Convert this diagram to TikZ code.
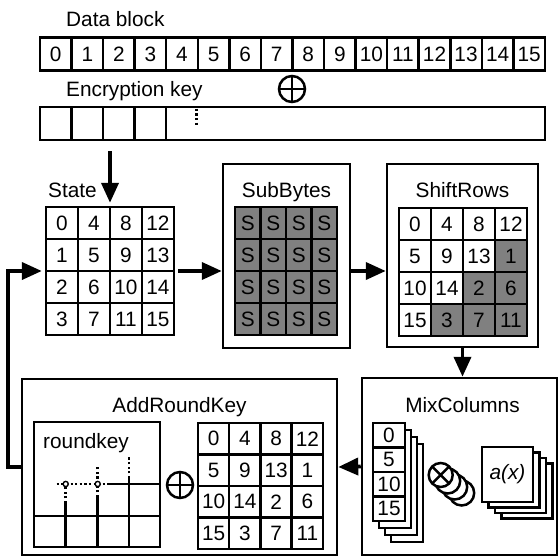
\documentclass[tikz,border=0pt]{standalone}
\usepackage{fontspec}
\setmainfont{Liberation Sans}
\usetikzlibrary{arrows.meta, positioning}
\definecolor{cellgray}{RGB}{128,128,128}
\tikzset{
cell/.style={draw, line width=2.5pt, inner sep=0pt, minimum width=32pt, minimum height=32pt}, % one byte of a block
stage/.style={draw, line width=2.5pt, inner sep=0pt}, % frame of a round step
heading/.style={anchor=base west, inner sep=0pt},
flow/.style={-{Triangle[length=20pt,width=17pt]}, line width=3.8pt}, % bold data flow arrows
dots/.style={line width=2.6pt, dash pattern=on 2.2pt off 2.4pt},
xorsym/.style={circle, draw, line width=2.5pt, minimum size=26pt, inner sep=0pt,
  path picture={\draw[line width=2.5pt] (path picture bounding box.north) -- (path picture bounding box.south)
    (path picture bounding box.west) -- (path picture bounding box.east);}},
mulsym/.style={circle, draw, fill=white, line width=2.5pt, minimum size=24pt, inner sep=0pt},
}

\begin{document}
\begin{tikzpicture}[x=1pt, y=-1pt, font=\fontsize{20.8}{24}\selectfont]
    \useasboundingbox (0,0) rectangle (559,556);

    % data block and key
    \node[heading] (datalbl) at (66,27) {Data block};
    \foreach \i in {0,...,15}
        \node[cell, minimum width=31.56pt, minimum height=33pt] (d\i) at ({55.78+31.56*\i},54) {\i};
    \node[heading] (keylbl) at (66,97) {Encryption key};
    \node[xorsym] (keyxor) at (292,89) {};
    \foreach \i in {0,...,3}
        \node[cell, minimum width=31.56pt, minimum height=33pt] (k\i) at ({55.78+31.56*\i},123.5) {};
    \node[cell, minimum width=378.8pt, minimum height=33pt] (krest) at (355.6,123.5) {};
    \draw[dots] ([xshift=31.6pt,yshift=-3pt]krest.north west) -- ++(0,16);

    % state
    \node[heading] (statelbl) at (48,197) {State};
    \node[minimum size=128pt, inner sep=0pt] (state) at (110,271) {};
    \foreach \r in {0,...,3}
        \foreach \c in {0,...,3} {
            \pgfmathtruncatemacro{\v}{4*\c+\r}
            \node[cell] (s-\r-\c) at ({62+32*\c},{223+32*\r}) {\v};
        }

    % subbytes
    \node[stage, minimum width=127pt, minimum height=184pt] (subbytes) at (286.5,256) {};
    \node[anchor=base, inner sep=0pt] at (286.5,197) {SubBytes};
    \foreach \r in {0,...,3}
        \foreach \c in {0,...,3}
            \node[cell, fill=cellgray, minimum width=25.5pt] (b-\r-\c) at ({247.75+25.5*\c},{223+32*\r}) {S};

    % shiftrows
    \node[stage, minimum width=151pt, minimum height=183pt] (shiftrows) at (462.5,255.5) {};
    \node[anchor=base, inner sep=0pt] at (462.5,197) {ShiftRows};
    \foreach \r in {0,...,3}
        \foreach \c in {0,...,3} {
            \pgfmathtruncatemacro{\v}{4*mod(\c+\r,4)+\r}
            \pgfmathtruncatemacro{\sh}{\c+\r>3}
            \ifnum\sh=1 \def\cellfill{cellgray}\else\def\cellfill{white}\fi
            \node[cell, fill=\cellfill] (h-\r-\c) at ({415+32*\c},{224+32*\r}) {\v};
        }

    % mixcolumns
    \node[stage, minimum width=195pt, minimum height=177pt] (mixcolumns) at (459.5,466.5) {};
    \node[anchor=base, inner sep=0pt] at (462.5,412) {MixColumns};
    \foreach \k in {3,2,1}
        \node[stage, fill=white, minimum width=32pt, minimum height=98pt] (col\k) at ({389+6*\k},{472+7*\k}) {};
    \foreach \v [count=\r from 0] in {0,5,10,15}
        \node[cell, fill=white, minimum height=24.5pt] (m-\r) at (389,{435.25+24.5*\r}) {\v};
    \foreach \k in {3,2,1}
        \node[mulsym, minimum width=22pt, minimum height=25pt] (mul\k) at ({440.7+7*\k},{475+6*\k}) {};
    \node[mulsym,
      path picture={\draw[line width=2.5pt] (path picture bounding box.north west) -- (path picture bounding box.south east)
        (path picture bounding box.north east) -- (path picture bounding box.south west);}] (mul0) at (440.7,475) {};
    \foreach \k in {3,2,1}
        \node[stage, fill=white, minimum width=51pt, minimum height=55pt] (ax\k) at ({507.5+6.5*\k},{474.5+5.5*\k}) {};
    \node[stage, fill=white, minimum width=51pt, minimum height=55pt] (ax0) at (507.5,474.5) {\itshape a(x)};

    % addroundkey
    \node[stage, minimum width=315pt, minimum height=176pt] (addroundkey) at (179.5,467) {};
    \node[anchor=base, inner sep=0pt] at (179.5,412) {AddRoundKey};
    \node[stage, minimum width=126pt, minimum height=125pt] (roundkey) at (97,484.5) {};
    \node[heading] at (43,448) {roundkey};
    \draw[line width=2.5pt] (34,516) -- (160,516)
        (65.7,547) -- (65.7,503) (97.7,547) -- (97.7,497) (129,547) -- (129,478) (110,484) -- (160,484);
    \draw[dots] (65.7,503) -- (65.7,484) (97.7,497) -- (97.7,465) (129,478) -- (129,457) (56.7,484) -- (110,484);
    \draw[line width=1.4pt, fill=white] (65.7,484) circle (2.6pt) (97.7,484) circle (2.6pt);
    \node[xorsym] (rkxor) at (180,485) {};
    \foreach \r in {0,...,3}
        \foreach \c in {0,...,3} {
            \pgfmathtruncatemacro{\v}{4*mod(\c+\r,4)+\r}
            \node[cell, minimum width=31.25pt, minimum height=31.5pt] (a-\r-\c) at ({213.6+31.25*\c},{438.75+31.5*\r}) {\v};
        }

    % arrows
    \draw[flow, shorten >=4pt] ([yshift=-10pt]state.north |- krest.south) -- (state.north);
    \draw[flow, shorten <=4pt] (state.east) -- (subbytes.west |- state.east);
    \draw[flow] (subbytes.east |- state.east) -- (shiftrows.west |- state.east);
    \draw[flow] (shiftrows.south) -- (shiftrows.south |- mixcolumns.north);
    \draw[flow] (mixcolumns.west) -- (addroundkey.east);
    \draw[flow, shorten >=4pt] (addroundkey.west) -- ++(-13,0) |- (state.west);
\end{tikzpicture}
\end{document}
